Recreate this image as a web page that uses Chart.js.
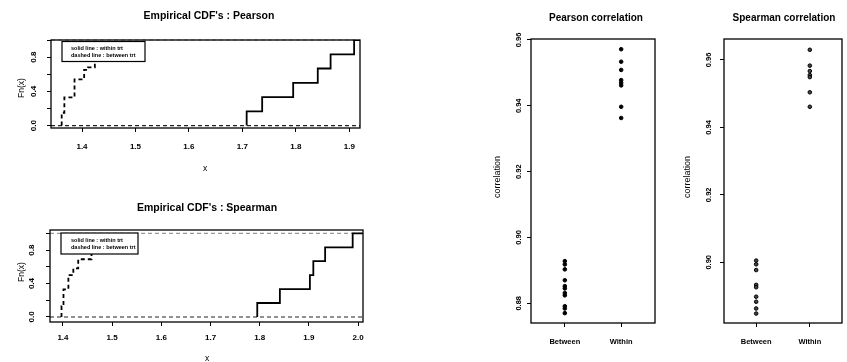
<!DOCTYPE html>
<html>
<head>
<meta charset="utf-8">
<script src="https://cdn.jsdelivr.net/npm/chart.js@4.4.1/dist/chart.umd.min.js"></script>
<style>
  html, body { margin: 0; padding: 0; background: #fff; }
  #wrap { position: relative; width: 847px; height: 362px; overflow: hidden; }
  #wrap canvas { position: absolute; left: 0; top: 0; }
</style>
</head>
<body>
<div id="wrap">
  <canvas id="cdfPearson" width="847" height="362"></canvas>
  <canvas id="cdfSpearman" width="847" height="362"></canvas>
  <canvas id="corrPearson" width="847" height="362"></canvas>
  <canvas id="corrSpearman" width="847" height="362"></canvas>
</div>
<script>
///////////////////////////
// DATA
///////////////////////////

// ECDF steps (x where Fn jumps, level after the jump)
const pearsonWithinZ = [1.708, 1.737, 1.795, 1.841, 1.865, 1.909];
const pearsonWithinFn = [0.167, 0.333, 0.5, 0.667, 0.833, 1.0];
const pearsonBetweenZ = [1.362, 1.367, 1.386, 1.404, 1.411, 1.424, 1.430, 1.436];
const pearsonBetweenFn = [0.15, 0.33, 0.54, 0.65, 0.68, 0.83, 0.92, 1.0];

const spearmanWithinZ = [1.795, 1.841, 1.902, 1.909, 1.933, 1.989];
const spearmanWithinFn = [0.167, 0.333, 0.5, 0.667, 0.833, 1.0];
const spearmanBetweenZ = [1.397, 1.401, 1.411, 1.421, 1.431, 1.458, 1.466, 1.473];
const spearmanBetweenFn = [0.13, 0.33, 0.5, 0.58, 0.69, 0.83, 0.92, 1.0];

// correlations per group
const groups = ["Between", "Within"];
const pearsonBetween = [0.8928, 0.8918, 0.8903, 0.8870, 0.8852, 0.8845, 0.8831, 0.8824, 0.8791, 0.8784, 0.8770];
const pearsonWithin = [0.9572, 0.9534, 0.9509, 0.9478, 0.9470, 0.9462, 0.9397, 0.9363];
const spearmanBetween = [0.9005, 0.8994, 0.8977, 0.8933, 0.8926, 0.8898, 0.8883, 0.8863, 0.8848];
const spearmanWithin = [0.9630, 0.9583, 0.9567, 0.9555, 0.9549, 0.9504, 0.9461];

// ticks
const cdfPearsonTicks = [1.4, 1.5, 1.6, 1.7, 1.8, 1.9];
const cdfSpearmanTicks = [1.4, 1.5, 1.6, 1.7, 1.8, 1.9, 2.0];
const fnTicks = [0, 0.2, 0.4, 0.6, 0.8, 1.0];
const fnLabels = ["0.0", "", "0.4", "", "0.8", ""];
const pearsonCorrTicks = [0.88, 0.90, 0.92, 0.94, 0.96];
const spearmanCorrTicks = [0.90, 0.92, 0.94, 0.96];
const groupTicks = [1, 2];

const legendLines = ["solid line : within trt", "dashed line : between trt"];

const FONT = "'Liberation Sans', Arial, sans-serif";
const X_AXIS_H = 30;

///////////////////////////
// R-STYLE FRAME PLUGIN
///////////////////////////

const rFrame = {
    id: "rFrame",
    beforeDatasetsDraw(chart, args, o) {
        if (!o.refLines) return;
        const { ctx, chartArea: a, scales } = chart;
        ctx.save();
        ctx.lineWidth = 1.1;
        ctx.setLineDash([4, 3]);
        o.refLines.forEach((v, i) => {
            const y = scales.y.getPixelForValue(v);
            ctx.strokeStyle = o.refColors[i];
            ctx.beginPath();
            ctx.moveTo(a.left, y);
            ctx.lineTo(a.right, y);
            ctx.stroke();
        });
        ctx.restore();
    },
    afterDraw(chart, args, o) {
        const { ctx, chartArea: a, scales } = chart;
        ctx.save();
        ctx.fillStyle = "#000";

        // legend box (white, covers the lines)
        if (o.legend) {
            const L = o.legend;
            const x0 = a.left + L.dx, y0 = a.top + L.dy;
            ctx.fillStyle = "#fff";
            ctx.fillRect(x0, y0, L.w, L.h);
            ctx.strokeStyle = "#000";
            ctx.lineWidth = 1.2;
            ctx.strokeRect(x0, y0, L.w, L.h);
            ctx.fillStyle = "#000";
            ctx.font = `bold 5.5px ${FONT}`;
            ctx.textAlign = "left";
            ctx.textBaseline = "middle";
            legendLines.forEach((t, i) => ctx.fillText(t, x0 + L.tx, y0 + L.ty + i * L.gap));
        }

        // box
        ctx.strokeStyle = "#000";
        ctx.lineWidth = 1.3;
        ctx.strokeRect(a.left, a.top, a.right - a.left, a.bottom - a.top);

        // y tick labels, rotated like R
        ctx.font = `bold ${o.tickSize}px ${FONT}`;
        ctx.textAlign = "center";
        ctx.textBaseline = "middle";
        o.yTicks.forEach((v, i) => {
            if (!o.yLabels[i]) return;
            ctx.save();
            ctx.translate(a.left - o.yLabelGap, scales.y.getPixelForValue(v));
            ctx.rotate(-Math.PI / 2);
            ctx.fillText(o.yLabels[i], 0, 0);
            ctx.restore();
        });

        // title
        ctx.font = `bold ${o.titleSize}px ${FONT}`;
        ctx.fillText(o.title, o.titleX, o.titleY);

        // axis labels
        ctx.font = `${o.labSize}px ${FONT}`;
        if (o.xlab) ctx.fillText(o.xlab, o.xlabX, o.xlabY);
        ctx.save();
        ctx.translate(o.ylabX, o.ylabY);
        ctx.rotate(-Math.PI / 2);
        ctx.fillText(o.ylab, 0, 0);
        ctx.restore();

        ctx.restore();
    }
};

///////////////////////////
// HELPERS
///////////////////////////

// step points of an ECDF; xEnd extends the last level to the right edge
function ecdfPoints(z, fn, xEnd) {
    const pts = [{ x: z[0], y: 0 }];
    z.forEach((v, i) => pts.push({ x: v, y: fn[i] }));
    if (xEnd != null) pts.push({ x: xEnd, y: fn[fn.length - 1] });
    return pts;
}

function xScale(min, max, ticks, labels, pad, size) {
    return {
        type: "linear",
        min: min,
        max: max,
        afterFit: s => { s.height = X_AXIS_H; },
        afterBuildTicks: s => { s.ticks = ticks.map(v => ({ value: v })); },
        ticks: {
            callback: (v, i) => labels[i],
            autoSkip: false,
            maxRotation: 0,
            padding: pad,
            color: "#000",
            font: { family: FONT, size: size, weight: "bold" }
        },
        grid: { drawOnChartArea: false, drawTicks: true, tickLength: 4, color: "#000", lineWidth: 1 },
        border: { display: false }
    };
}

function yScale(min, max, ticks) {
    return {
        type: "linear",
        min: min,
        max: max,
        afterFit: s => { s.width = 0; },
        afterBuildTicks: s => { s.ticks = ticks.map(v => ({ value: v })); },
        ticks: { display: false },
        grid: { drawOnChartArea: false, drawTicks: true, tickLength: 4, color: "#000", lineWidth: 1 },
        border: { display: false }
    };
}

///////////////////////////
// ECDF PANELS
///////////////////////////

function cdfChart(id, padding, xMin, xMax, xTicks, yMin, yMax, within, between, frame) {
    return new Chart(document.getElementById(id), {
        type: "line",
        data: {
            datasets: [
                {
                    data: ecdfPoints(within[0], within[1], xMax),
                    stepped: "before",
                    borderColor: "#000",
                    borderWidth: 1.8,
                    pointRadius: 0,
                    fill: false
                },
                {
                    data: ecdfPoints(between[0], between[1], null),
                    stepped: "before",
                    borderColor: "#000",
                    borderWidth: 1.8,
                    borderDash: [4, 3],
                    pointRadius: 0,
                    fill: false
                }
            ]
        },
        options: {
            responsive: false,
            animation: false,
            layout: { padding: padding },
            scales: {
                x: xScale(xMin, xMax, xTicks, xTicks.map(v => v.toFixed(1)), frame.xPad, 8),
                y: yScale(yMin, yMax, fnTicks)
            },
            plugins: { legend: { display: false }, tooltip: { enabled: false }, rFrame: frame }
        },
        plugins: [rFrame]
    });
}

cdfChart("cdfPearson", { left: 51, top: 40, right: 487, bottom: 234 - X_AXIS_H },
    1.342, 1.92, cdfPearsonTicks, -0.028, 1.0,
    [pearsonWithinZ, pearsonWithinFn], [pearsonBetweenZ, pearsonBetweenFn],
    {
        refLines: [0, 1], refColors: ["#222", "#999"], xPad: 9.5, tickSize: 8,
        yTicks: fnTicks, yLabels: fnLabels, yLabelGap: 17,
        title: "Empirical CDF's : Pearson", titleX: 209, titleY: 16, titleSize: 10.5,
        xlab: "x", xlabX: 205, xlabY: 169, ylab: "Fn(x)", ylabX: 22, ylabY: 88, labSize: 8.5,
        legend: { dx: 11, dy: 1.5, w: 83, h: 20, tx: 9, ty: 6.5, gap: 7.5 }
    });

cdfChart("cdfSpearman", { left: 50, top: 230, right: 484, bottom: 40 - X_AXIS_H },
    1.3736, 2.01, cdfSpearmanTicks, -0.06, 1.04,
    [spearmanWithinZ, spearmanWithinFn], [spearmanBetweenZ, spearmanBetweenFn],
    {
        refLines: [0, 1], refColors: ["#222", "#999"], xPad: 6.5, tickSize: 8,
        yTicks: fnTicks, yLabels: fnLabels, yLabelGap: 18,
        title: "Empirical CDF's : Spearman", titleX: 207, titleY: 208, titleSize: 10.5,
        xlab: "x", xlabX: 207, xlabY: 359, ylab: "Fn(x)", ylabX: 22, ylabY: 272, labSize: 8.5,
        legend: { dx: 11, dy: 3, w: 77, h: 21, tx: 10, ty: 7, gap: 7.5 }
    });

///////////////////////////
// CORRELATION STRIP PANELS
///////////////////////////

function corrChart(id, padding, yMin, yMax, yTicks, between, within, frame) {
    return new Chart(document.getElementById(id), {
        type: "scatter",
        data: {
            datasets: [
                { data: between.map(v => ({ x: groupTicks[0], y: v })) },
                { data: within.map(v => ({ x: groupTicks[1], y: v })) }
            ]
        },
        options: {
            responsive: false,
            animation: false,
            layout: { padding: padding },
            elements: {
                point: {
                    radius: 1.8,
                    borderWidth: 1,
                    borderColor: "#000",
                    backgroundColor: frame.dotFill
                }
            },
            scales: {
                x: xScale(0.4, 2.6, groupTicks, groups, 10, 7.5),
                y: yScale(yMin, yMax, yTicks)
            },
            plugins: { legend: { display: false }, tooltip: { enabled: false }, rFrame: frame }
        },
        plugins: [rFrame]
    });
}

corrChart("corrPearson", { left: 531, top: 39, right: 192, bottom: 39 - X_AXIS_H },
    0.874, 0.9603, pearsonCorrTicks, pearsonBetween, pearsonWithin,
    {
        dotFill: "#000", tickSize: 7.5, yTicks: pearsonCorrTicks,
        yLabels: pearsonCorrTicks.map(v => v.toFixed(2)), yLabelGap: 12,
        title: "Pearson correlation", titleX: 596, titleY: 18, titleSize: 10,
        ylab: "correlation", ylabX: 498, ylabY: 177, labSize: 9
    });

corrChart("corrSpearman", { left: 724, top: 39, right: 1, bottom: 39 - X_AXIS_H },
    0.882, 0.9662, spearmanCorrTicks, spearmanBetween, spearmanWithin,
    {
        dotFill: "#444", tickSize: 7.5, yTicks: spearmanCorrTicks,
        yLabels: spearmanCorrTicks.map(v => v.toFixed(2)), yLabelGap: 15,
        title: "Spearman correlation", titleX: 784, titleY: 18, titleSize: 10,
        ylab: "correlation", ylabX: 688, ylabY: 177, labSize: 9
    });
</script>
</body>
</html>
